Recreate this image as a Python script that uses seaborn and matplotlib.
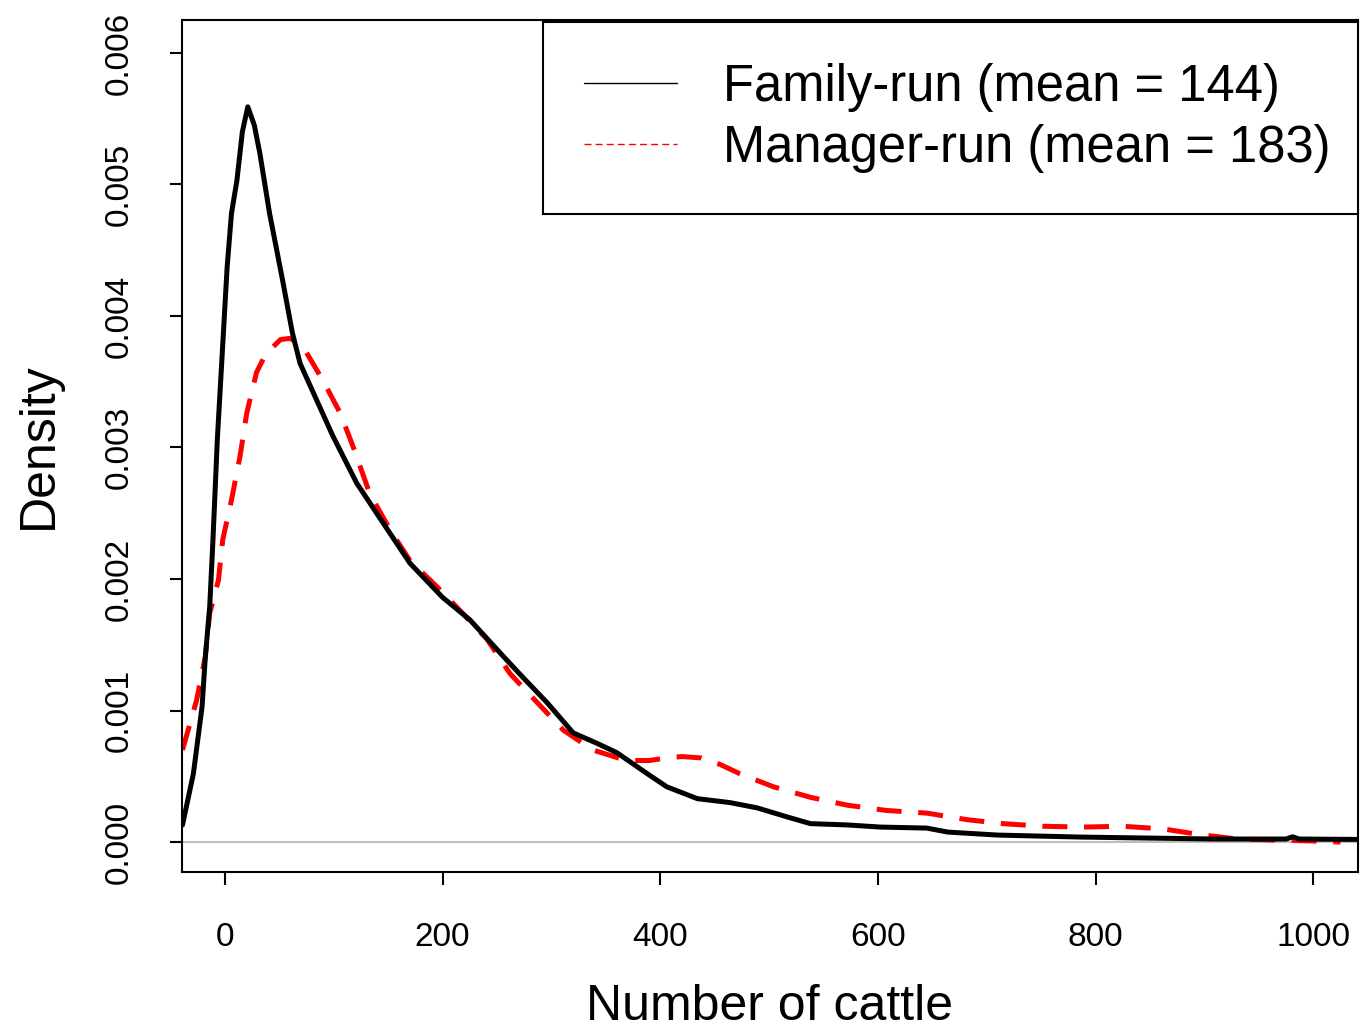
import numpy as np
import pandas as pd
import matplotlib
matplotlib.use("Agg")
import matplotlib.pyplot as plt
from matplotlib.lines import Line2D
import seaborn as sns

# density curves
family_x = [-39, -29, -21, -18, -14, -11, -7, -3, 2, 6, 11, 16, 21, 27, 32, 41, 53, 62, 69,
            87, 99, 121, 145, 170, 200, 225, 256, 274, 296, 320, 342, 360, 388, 406, 434,
            464, 489, 517, 538, 572, 602, 645, 664, 710, 786, 908, 975, 981, 987, 1041]
family_y = [0.00013, 0.00052, 0.00103, 0.00141, 0.00179, 0.0023, 0.00306, 0.00364, 0.00437,
            0.00478, 0.00503, 0.0054, 0.00559, 0.00545, 0.00524, 0.00478, 0.00427, 0.00387,
            0.00364, 0.00331, 0.00309, 0.00273, 0.00243, 0.00212, 0.00186, 0.00169, 0.00141,
            0.00125, 0.00106, 0.00083, 0.00075, 0.00068, 0.00052, 0.00042, 0.00033, 0.0003,
            0.00026, 0.00019, 0.00014, 0.00013, 0.000114, 0.000106, 0.000076, 0.000053,
            0.000038, 0.000023, 0.000023, 0.00004, 0.000023, 0.00002]

manager_x = [-39, -26, -18, -14, -6, -2, 6, 14, 20, 29, 35, 41, 51, 60, 67, 75, 90, 106, 118,
             133, 152, 170, 195, 216, 241, 262, 287, 311, 338, 369, 390, 406, 420, 437, 455,
             473, 504, 538, 572, 608, 645, 682, 715, 752, 789, 825, 862, 893, 930, 967, 1000,
             1025]
manager_y = [0.0007, 0.00108, 0.00141, 0.00174, 0.00199, 0.0023, 0.0026, 0.00294, 0.00326,
             0.00357, 0.00367, 0.00374, 0.00382, 0.00383, 0.00379, 0.00372, 0.00351, 0.00326,
             0.003, 0.00265, 0.00237, 0.00214, 0.00194, 0.00176, 0.00154, 0.00128, 0.00106,
             0.00085, 0.0007, 0.00062, 0.00062, 0.00064, 0.00065, 0.00064, 0.00059, 0.00052,
             0.00042, 0.00034, 0.00028, 0.00024, 0.00022, 0.00017, 0.00014, 0.00012, 0.000114,
             0.00012, 0.0001, 0.00006, 0.000023, 0.000015, 0.000008, 0.0]

labels = ["Family-run (mean = 144)", "Manager-run (mean = 183)"]
xticks = [0, 200, 400, 600, 800, 1000]
yticks = [0.000, 0.001, 0.002, 0.003, 0.004, 0.005, 0.006]

sns.set_style("ticks")
plt.rcParams['font.family'] = ['Liberation Sans', 'DejaVu Sans']
plt.rcParams['lines.scale_dashes'] = False
plt.rcParams['text.color'] = 'black'
plt.rcParams['axes.labelcolor'] = 'black'
plt.rcParams['xtick.color'] = 'black'
plt.rcParams['ytick.color'] = 'black'

fig = plt.figure(figsize=(13.65, 10.32), dpi=100)
ax = fig.add_axes([0.1333, 0.155, 0.8615, 0.8256])

fam = pd.DataFrame({"x": family_x, "y": family_y})
man = pd.DataFrame({"x": manager_x, "y": manager_y})

ax.axhline(0, color="#bebebe", lw=1.5, zorder=1)
sns.lineplot(data=fam, x="x", y="y", color="black", lw=3.6, ax=ax, sort=False, zorder=3)
sns.lineplot(data=man, x="x", y="y", color="#ff0000", lw=3.6, ax=ax, sort=False,
             linestyle=(0, (18, 12)), zorder=2)

ax.set_xlim(-39.5, 1041)
ax.set_ylim(-0.000228, 0.00625)
ax.set_xticks(xticks)
ax.set_xticklabels([str(t) for t in xticks], fontsize=24)
ax.set_yticks(yticks)
ax.set_yticklabels(["%.3f" % t for t in yticks], fontsize=24, rotation=90, va="center")
ax.tick_params(axis="both", length=9, width=1.5, color="black", labelcolor="black")
ax.tick_params(axis="x", pad=27)
ax.tick_params(axis="y", pad=25)
for s in ax.spines.values():
    s.set_linewidth(1.5)
    s.set_color("black")
    s.set_visible(True)

ax.set_xlabel("Number of cattle", fontsize=36, labelpad=22, color="black")
ax.set_ylabel("Density", fontsize=36, labelpad=30, color="black")

handles = [Line2D([], [], color="black", lw=1),
           Line2D([], [], color="#ff0000", lw=1, linestyle=(0, (5, 3)))]
leg = ax.legend(handles, labels, loc="upper left", bbox_to_anchor=(0.307, 0.78, 0.693, 0.2177),
                mode="expand", borderaxespad=0, fontsize=36.5, handlelength=1.85,
                handletextpad=0.9, labelspacing=0.25, borderpad=0.8,
                fancybox=False, framealpha=1, edgecolor="black")
leg.get_frame().set_linewidth(1.5)

fig.savefig("out.png", dpi=100)
